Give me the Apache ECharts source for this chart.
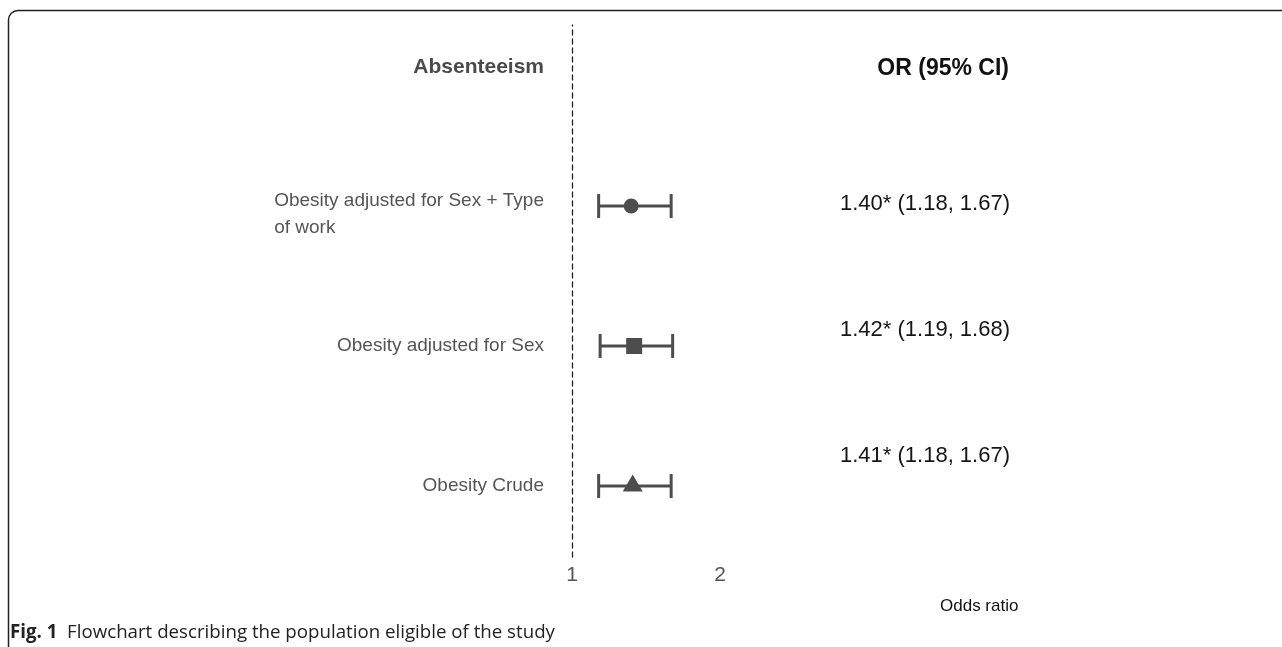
<!DOCTYPE html>
<html>
<head>
<meta charset="utf-8">
<script src="https://cdn.jsdelivr.net/npm/echarts@6/dist/echarts.min.js"></script>
<style>
  html, body { margin: 0; padding: 0; background: #ffffff; }
  #chart { width: 1282px; height: 647px; }
</style>
</head>
<body>
<div id="chart"></div>
<script>
// ---- data ----
const rowLabels = ['Obesity adjusted for Sex + Type\nof work', 'Obesity adjusted for Sex', 'Obesity Crude'];
const oddsRatio = [1.40, 1.42, 1.41];
const ciLower = [1.18, 1.19, 1.18];
const ciUpper = [1.67, 1.68, 1.67];
const significant = [true, true, true];
const xTicks = [1, 2];
const leftHeader = 'Absenteeism';
const rightHeader = 'OR (95% CI)';
const xAxisTitle = 'Odds ratio';
const captionLabel = 'Fig. 1';
const captionText = 'Flowchart describing the population eligible of the study';

// ---- styles ----
const FONT = "'Liberation Sans', Arial, sans-serif";
const CAP_FONT = "'Open Sans', 'Noto Sans', sans-serif";
const markColor = '#4d4d4d';
const markers = [
  { symbol: 'circle', size: 15, offset: [0, 0] },
  { symbol: 'rect', size: 16, offset: [0, 0] },
  { symbol: 'triangle', size: [20, 17], offset: [0, -3] }
];
const LABEL_LH = 27;
const FIRST_LINE_SHIFT = 17;

const orTexts = oddsRatio.map((v, i) =>
  v.toFixed(2) + (significant[i] ? '*' : '') + ' (' + ciLower[i].toFixed(2) + ', ' + ciUpper[i].toFixed(2) + ')');

const leftAxisData = rowLabels.map(l => {
  const n = l.split('\n').length;
  return n > 1 ? { value: l, textStyle: { padding: [FIRST_LINE_SHIFT, 0, 0, 0] } } : l;
});

const xMin = xTicks[0], xMax = xTicks[xTicks.length - 1];

const chart = echarts.init(document.getElementById('chart'), null, { renderer: 'canvas' });

const frameStyle = { stroke: '#222222', fill: 'none', lineWidth: 1.5 };

const option = {
  backgroundColor: '#ffffff',
  animation: false,
  textStyle: { fontFamily: FONT },
  title: [
    { text: leftHeader, right: 738, top: 57, padding: 0,
      textStyle: { fontFamily: FONT, fontSize: 21, fontWeight: 'bold', color: '#4a4a4a' } },
    { text: rightHeader, right: 273, top: 57, padding: 0,
      textStyle: { fontFamily: FONT, fontSize: 23, fontWeight: 'bold', color: '#111111' } },
    { text: xAxisTitle, left: 940, top: 598, padding: 0,
      textStyle: { fontFamily: FONT, fontSize: 17, fontWeight: 'normal', color: '#111111' } },
    { text: '{b|' + captionLabel + '}  ' + captionText, left: 10, top: 623, padding: 0,
      textStyle: { fontFamily: CAP_FONT, fontSize: 18.7, fontWeight: 'normal', color: '#222222',
        rich: { b: { fontFamily: CAP_FONT, fontSize: 18.7, fontWeight: 'bold', color: '#222222' } } } }
  ],
  graphic: [
    { type: 'line', silent: true, shape: { x1: 8.5, y1: 647, x2: 8.5, y2: 20 }, style: frameStyle },
    { type: 'arc', silent: true, shape: { cx: 18, cy: 20, r: 9.5, startAngle: Math.PI, endAngle: Math.PI * 1.5, clockwise: true }, style: frameStyle },
    { type: 'line', silent: true, shape: { x1: 18, y1: 10.5, x2: 1282, y2: 10.5 }, style: frameStyle }
  ],
  grid: [
    { left: 572, right: 562, top: 136, bottom: 91 },   // marks
    { left: 572, right: 562, top: 25, bottom: 90 },    // reference line + ticks
    { left: 1022, width: 10, top: 141, bottom: 128 }   // OR text column
  ],
  xAxis: [
    { gridIndex: 0, type: 'value', min: xMin, max: xMax, show: false },
    { gridIndex: 1, type: 'value', min: xMin, max: xMax, interval: 1,
      axisLine: { show: false }, axisTick: { show: false }, splitLine: { show: false },
      axisLabel: { show: true, margin: 8, fontSize: 21, color: '#555555', fontFamily: FONT,
        showMinLabel: true, showMaxLabel: true } },
    { gridIndex: 2, type: 'value', min: 0, max: 1, show: false }
  ],
  yAxis: [
    { gridIndex: 0, type: 'category', inverse: true, data: leftAxisData,
      axisLine: { show: false }, axisTick: { show: false }, splitLine: { show: false },
      axisLabel: { interval: 0, margin: 28, fontSize: 19, color: '#555555', fontFamily: FONT,
        formatter: v => v.split('\n').map(s => '{l|' + s + '}').join('\n'),
        rich: { l: { align: 'left', fontSize: 19, lineHeight: LABEL_LH, color: '#555555', fontFamily: FONT } } } },
    { gridIndex: 1, type: 'value', min: 0, max: 1,
      axisLine: { show: true, onZero: false, lineStyle: { color: '#222222', width: 1.3, type: [5, 4] } },
      axisTick: { show: false }, axisLabel: { show: false }, splitLine: { show: false } },
    { gridIndex: 2, type: 'category', inverse: true, data: orTexts,
      axisLine: { show: false }, axisTick: { show: false }, splitLine: { show: false },
      axisLabel: { interval: 0, margin: 12, fontSize: 22, color: '#151515', fontFamily: FONT } }
  ],
  series: [
    {
      type: 'custom',
      xAxisIndex: 0, yAxisIndex: 0,
      data: ciLower.map((lo, i) => [lo, ciUpper[i], i]),
      encode: { x: [0, 1], y: 2 },
      renderItem: function (params, api) {
        const idx = api.value(2);
        const p1 = api.coord([api.value(0), idx]);
        const p2 = api.coord([api.value(1), idx]);
        const cap = 12;
        const st = { stroke: markColor, lineWidth: 3, fill: 'none' };
        return {
          type: 'group',
          children: [
            { type: 'line', shape: { x1: p1[0], y1: p1[1], x2: p2[0], y2: p2[1] }, style: st },
            { type: 'line', shape: { x1: p1[0], y1: p1[1] - cap, x2: p1[0], y2: p1[1] + cap }, style: st },
            { type: 'line', shape: { x1: p2[0], y1: p2[1] - cap, x2: p2[0], y2: p2[1] + cap }, style: st }
          ]
        };
      },
      z: 2
    },
    {
      type: 'scatter',
      xAxisIndex: 0, yAxisIndex: 0,
      data: oddsRatio.map((v, i) => ({
        value: [v, i],
        symbol: markers[i].symbol,
        symbolSize: markers[i].size,
        symbolOffset: markers[i].offset
      })),
      itemStyle: { color: markColor, opacity: 1 },
      z: 3
    }
  ]
};

chart.setOption(option);
</script>
</body>
</html>
